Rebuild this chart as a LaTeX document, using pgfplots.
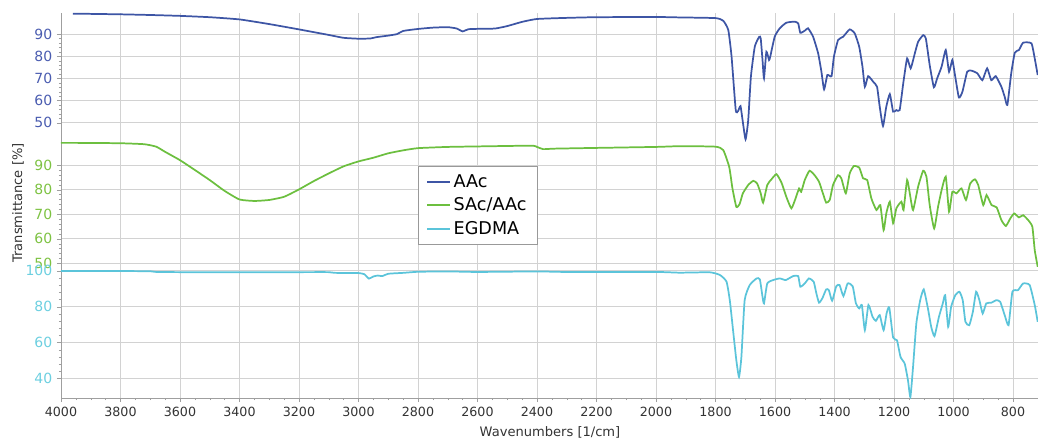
\documentclass[border=0pt]{standalone}
\usepackage{fontspec}
\setmainfont{DejaVu Sans}
\usepackage{pgfplots}
\pgfplotsset{compat=1.18}

\definecolor{cAAc}{HTML}{3D55A5}
\definecolor{cSAc}{HTML}{6CBF3F}
\definecolor{cEG}{HTML}{5BC4DA}
\definecolor{tAAc}{HTML}{4A5CB0}
\definecolor{tSAc}{HTML}{7DC242}
\definecolor{tEG}{HTML}{6CCFE0}
\definecolor{txt}{HTML}{333333}

\pgfplotsset{
  panel/.style={
    scale only axis, width=732.75pt,
    x dir=reverse, xmin=716, xmax=4000,
    xtick={800,1000,...,4000},
    scaled x ticks=false,
    axis y line=left, axis x line=bottom,
    axis line style={-, draw=gray!75},
    xmajorgrids, ymajorgrids,
    grid style={gray!35, line width=0.6pt},
    tick align=outside,
    major tick length=3pt, minor tick length=1.6pt,
    tick style={gray!75},
    minor y tick num=4,
    /pgf/number format/assume math mode=true,
    /pgf/number format/1000 sep={},
    yticklabel style={font=\fontsize{10.5}{12}\selectfont},
    xticklabel style={font=\fontsize{9.5}{11}\selectfont, text=txt},
  },
  upper/.style={
    x axis line style={draw=none},
    xticklabels={},
    major x tick style={draw=none},
    minor x tick num=0,
  },
  spec/.style={line width=1.3pt, smooth, tension=0.3},
}

\begin{document}
\begin{tikzpicture}
\useasboundingbox (0,0) rectangle (778.5pt,-329.25pt);

% AAc
\begin{axis}[panel, upper,
  at={(45.75pt,-106.5pt)}, anchor=south west,
  height=96.75pt, ymin=41.3, ymax=99.5,
  ytick={50,60,70,80,90},
  yticklabel style={text=tAAc}]
\addplot[cAAc, spec] coordinates {
(3960,99.2) (3900,99.1) (3800,98.9) (3700,98.6) (3600,98.2) (3500,97.6) (3400,96.6)
(3300,94.5) (3200,92.1) (3100,89.6) (3050,88.3) (3000,87.9) (2960,88.0) (2940,88.6)
(2900,89.3) (2870,90.0) (2850,91.4) (2800,92.3) (2750,92.9) (2700,93.1) (2670,92.5)
(2650,91.2) (2630,92.2) (2580,92.4) (2540,92.5) (2500,93.6) (2450,95.5) (2400,96.8)
(2300,97.3) (2200,97.6) (2000,97.7) (1920,97.5) (1800,97.2) (1774,96.0) (1757,91.8)
(1746,79.8) (1732,55.7) (1724,55.3) (1716,57.5) (1709,51.2) (1699,42.5) (1690,51.2)
(1681,70.8) (1668,84.3) (1653,88.8) (1648,88.0) (1642,78.3) (1637,70.0) (1629,82.0)
(1620,78.3) (1616,79.8) (1601,88.8) (1584,92.6) (1562,95.1) (1534,95.6) (1522,94.8)
(1515,90.6) (1500,91.5) (1489,92.6) (1472,88.8) (1455,81.3) (1444,73.0) (1435,65.0)
(1424,71.5) (1410,71.0) (1402,79.8) (1388,87.3) (1371,88.8) (1349,92.1) (1332,90.3)
(1317,84.3) (1306,75.3) (1298,66.2) (1287,71.0) (1270,68.5) (1257,66.2) (1248,57.2)
(1237,48.5) (1226,57.2) (1214,62.9) (1203,55.0) (1192,55.7) (1181,55.7) (1169,67.7)
(1156,79.0) (1144,74.5) (1130,81.3) (1119,86.5) (1102,89.5) (1093,88.0) (1080,76.0)
(1066,66.0) (1055,70.0) (1040,75.3) (1026,82.8) (1015,73.0) (1004,78.3) (996,72.3)
(982,61.4) (970,64.0) (954,73.0) (940,73.5) (920,72.3) (903,69.2) (887,74.5)
(873,69.2) (858,71.0) (839,66.2) (828,61.7) (819,58.0) (806,72.3) (794,81.6)
(780,82.8) (766,86.1) (738,85.8) (727,79.0) (717,71.5)
};
\end{axis}

% SAc/AAc
\begin{axis}[panel, upper,
  at={(45.75pt,-201pt)}, anchor=south west,
  height=94.5pt, ymin=48.1, ymax=99.4,
  ytick={50,60,70,80,90},
  yticklabel style={text=tSAc},
  legend style={at={(0.3654,0.8095)}, anchor=north west,
    draw=gray!80, fill=white, text=black,
    font=\fontsize{13.2}{15}\selectfont, row sep=2.5pt,
    inner xsep=6pt, inner ysep=4pt},
  legend image post style={line width=1.5pt},
  legend cell align=left]
\addlegendimage{cAAc}
\addlegendentry{AAc}
\addplot[cSAc, spec] coordinates {
(4000,99.1) (3900,99.0) (3800,98.9) (3720,98.5) (3680,97.5) (3650,95.4) (3600,92.0)
(3550,88.0) (3500,83.9) (3450,79.5) (3400,76.0) (3350,75.4) (3300,75.8) (3250,77.1)
(3200,80.1) (3150,83.5) (3100,86.6) (3050,89.5) (3000,91.5) (2950,93.0) (2900,94.8)
(2850,96.0) (2800,96.9) (2700,97.4) (2600,97.6) (2420,97.9) (2400,97.4) (2380,96.5)
(2340,96.7) (2200,97.0) (2000,97.4) (1920,97.7) (1800,97.5) (1774,96.1) (1754,89.3)
(1743,80.5) (1730,73.0) (1719,74.1) (1708,78.5) (1690,81.9) (1673,83.6) (1660,82.5)
(1648,78.5) (1640,74.7) (1626,81.9) (1612,84.2) (1595,86.3) (1578,82.8) (1562,77.1)
(1545,72.4) (1531,76.4) (1519,80.5) (1512,79.1) (1500,83.9) (1484,87.7) (1467,85.9)
(1452,83.2) (1439,78.5) (1428,74.7) (1416,75.8) (1405,81.9) (1388,85.9) (1377,84.6)
(1362,78.5) (1349,86.6) (1335,89.6) (1317,89.0) (1304,84.6) (1290,83.9) (1276,76.4)
(1259,71.7) (1246,73.7) (1235,63.5) (1226,70.3) (1214,75.1) (1203,66.3) (1192,72.4)
(1175,75.1) (1168,71.7) (1156,83.9) (1147,78.5) (1136,71.7) (1119,81.2) (1102,87.7)
(1091,85.3) (1080,73.7) (1065,64.2) (1052,73.0) (1040,79.8) (1026,85.3) (1015,71.0)
(1004,79.1) (990,78.5) (973,80.5) (958,75.8) (944,82.5) (928,84.2) (917,81.9)
(900,73.7) (889,77.8) (872,73.7) (855,72.8) (839,67.6) (824,65.2) (809,68.3)
(796,70.3) (780,68.7) (766,69.6) (749,67.6) (735,64.9) (727,55.4) (717,48.6)
};
\addlegendentry{SAc/AAc}
\addlegendimage{cEG}
\addlegendentry{EGDMA}
\end{axis}

% EGDMA
\begin{axis}[panel,
  at={(45.75pt,-298.5pt)}, anchor=south west,
  height=97.5pt, ymin=29.2, ymax=101.5,
  ytick={40,60,80,100},
  minor x tick num=3,
  yticklabel style={text=tEG}]
\addplot[cEG, spec] coordinates {
(4000,99.8) (3900,99.8) (3800,99.8) (3700,99.7) (3680,99.3) (3600,99.2) (3400,99.2)
(3200,99.2) (3100,99.2) (3080,98.8) (3000,98.7) (2980,98.0) (2965,95.6) (2950,96.8)
(2935,97.3) (2920,97.0) (2900,98.3) (2850,98.8) (2800,99.4) (2700,99.6) (2600,99.3)
(2400,99.6) (2300,99.3) (2000,99.3) (1920,98.9) (1819,99.1) (1785,97.6) (1763,93.9)
(1752,83.6) (1741,66.9) (1730,50.2) (1721,40.9) (1713,52.0) (1702,83.6) (1685,92.0)
(1662,95.7) (1651,95.2) (1642,85.5) (1637,81.8) (1626,92.9) (1606,94.8) (1584,95.7)
(1564,94.8) (1539,97.0) (1522,97.0) (1515,91.1) (1500,92.9) (1486,95.7) (1470,93.9)
(1461,87.4) (1452,82.2) (1441,84.6) (1428,89.6) (1419,89.2) (1408,83.3) (1394,91.4)
(1383,92.0) (1370,85.9) (1356,92.9) (1339,91.4) (1328,81.8) (1317,79.0) (1308,80.9)
(1298,66.9) (1286,80.9) (1272,74.3) (1261,72.1) (1248,75.3) (1235,66.9) (1225,76.2)
(1216,79.6) (1203,62.8) (1190,61.3) (1178,52.0) (1164,48.3) (1153,39.0) (1145,29.7)
(1136,46.5) (1125,70.6) (1112,83.6) (1100,89.6) (1086,79.0) (1075,68.8) (1064,63.6)
(1049,74.3) (1036,81.8) (1028,86.4) (1018,68.8) (1008,79.9) (994,86.4) (980,88.3)
(969,83.6) (960,71.6) (947,69.7) (935,77.1) (924,88.3) (913,83.6) (902,76.2)
(890,81.8) (873,82.2) (856,83.6) (843,82.7) (828,75.3) (815,69.7) (802,88.3)
(783,89.2) (766,92.9) (744,92.0) (727,80.9) (717,71.6)
};
\end{axis}

\node[rotate=90, text=txt, font=\fontsize{9.8}{11}\selectfont] at (13.5pt,-152.25pt) {Transmittance [\%]};
\node[text=txt, font=\fontsize{9.8}{11}\selectfont] at (412.5pt,-324pt) {Wavenumbers [1/cm]};
\end{tikzpicture}
\end{document}
